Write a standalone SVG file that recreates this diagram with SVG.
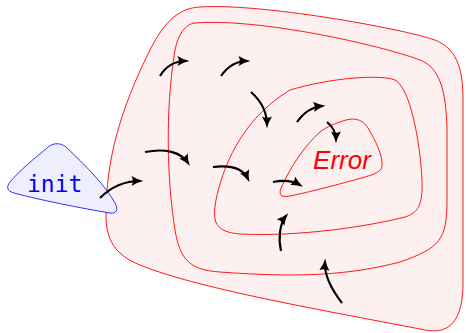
<svg xmlns="http://www.w3.org/2000/svg" width="466" height="333" viewBox="0 0 466 333">
<style>
.reg{fill:#fdf0f0;stroke:#ff1a1a;stroke-width:1}
.arr{fill:none;stroke:#000;stroke-width:2.1;marker-end:url(#ah)}
</style>
<defs>
<marker id="ah" markerWidth="13" markerHeight="11" refX="9" refY="5.5" orient="auto" markerUnits="userSpaceOnUse">
<path d="M0.5,0.5 Q6.5,4.3 12.5,5.5 Q6.5,6.7 0.5,10.5 Q3,5.5 0.5,0.5Z" fill="#000"/>
</marker>
</defs>
<rect width="466" height="333" fill="#fff"/>
<g id="region0">
<path class="reg" d="M200,7 C260,3 400,28 435,40 C455,48 463,65 463,100 L463,283 C463,320 450,335 425,330 C350,315 200,290 140,265 C115,255 106,240 106,215 C106,160 120,110 150,50 C165,20 180,8 200,7 Z"/>
</g>
<g id="region1">
<path class="reg" d="M195,23 C260,18 380,45 420,60 C440,68 446,90 447,130 L447,200 C447,240 440,248 400,262 C350,275 300,278 220,272 C190,270 180,260 175,230 C167,180 165,110 175,50 C178,35 185,24 195,23 Z"/>
</g>
<g id="region2">
<path class="reg" d="M290,90 C330,78 380,74 395,80 C410,88 420,140 422,180 C423,205 418,213 405,217 C370,226 300,237 240,234 C215,232 212,222 216,200 C222,170 240,120 290,90 Z"/>
</g>
<g id="error">
<path class="reg" d="M340,122 C355,116 363,120 368,128 C375,140 383,155 382,166 C381,172 375,174 365,177 C340,184 310,192 290,196 C280,198 278,194 282,186 C290,168 305,145 320,132 C328,126 334,124 340,122 Z"/>
<text x="342" y="169" text-anchor="middle" font-family="Liberation Sans, Arial, sans-serif" font-style="italic" font-size="26" fill="#ff0000">Error</text>
</g>
<g id="init">
<path d="M47,148 C52,143 60,142 66,147 C85,165 105,185 115,203 C119,210 116,214 110,213 C80,208 40,200 14,193 C7,191 6,187 10,182 C20,170 35,158 47,148 Z" fill="#eeeefd" stroke="#3333ff" stroke-width="1"/>
<text x="27" y="192" font-family="DejaVu Sans Mono, monospace" font-size="23" fill="#0000ff">init</text>
</g>
<g id="connectors">
<path class="arr" d="M100,198 C110,188 124,181 140,181"/>
<path class="arr" d="M160,76 C166,66 175,61 186,61"/>
<path class="arr" d="M221,76 C228,66 237,61 247,61"/>
<path class="arr" d="M251,92 C260,100 267,110 267,125"/>
<path class="arr" d="M297,122 C304,112 312,107 322,106"/>
<path class="arr" d="M327,122 C333,127 336,133 336,140"/>
<path class="arr" d="M145,152 C165,148 181,152 188,163"/>
<path class="arr" d="M213,167 C230,165 243,168 248,179"/>
<path class="arr" d="M273,182 C283,180 293,181 300,185"/>
<path class="arr" d="M281,251 C278,238 280,223 286,216"/>
<path class="arr" d="M342,303 C332,290 324,276 325,262"/>
</g>
</svg>
